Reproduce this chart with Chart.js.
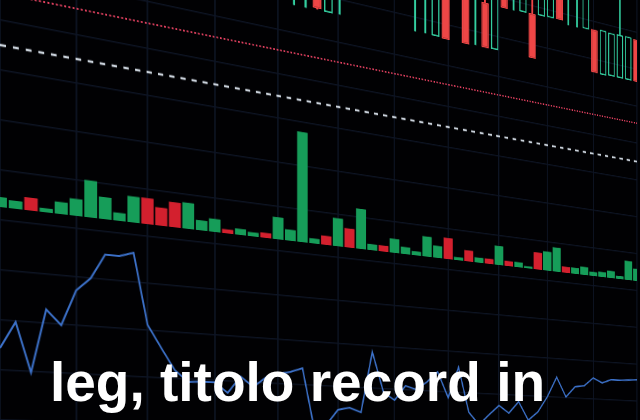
<!DOCTYPE html>
<html>
<head>
<meta charset="utf-8">
<script src="https://cdn.jsdelivr.net/npm/chart.js@4.4.1/dist/chart.umd.min.js"></script>
<style>
  html, body { margin: 0; padding: 0; background: #010103; width: 640px; height: 420px; overflow: hidden; }
  #stage { position: absolute; left: 0; top: 0; width: 640px; height: 420px; overflow: hidden; background: #010103; }
  /* the screen is photographed at an angle: flat chart -> perspective */
  #chart { position: absolute; left: 0; top: 0; transform-origin: 0 0;
    transform: matrix3d(1, 0.2016, 0, 0.0004125, 0, 1, 0, 0, 0, 0, 1, 0, 0, -180, 0, 1); }
  #caption { position: absolute; left: 50px; top: 355px; color: #fff; white-space: nowrap;
    font: bold 55px "Liberation Sans", Arial, sans-serif; line-height: 55px; }
</style>
</head>
<body>
<div id="stage">
  <canvas id="chart" width="872" height="600"></canvas>
  <div id="caption">leg, titolo record in</div>
</div>
<script>
// volume per session (1 = up session, 0 = down session)
const volume = [100, 80, 130, 41, 123, 175, 384, 230, 84, 275,
                277, 193, 269, 282, 109, 143, 44, 67, 45, 56,
                249, 125, 1257, 57, 104, 325, 222, 470, 71, 71,
                167, 84, 48, 243, 146, 258, 37, 136, 62, 63,
                239, 63, 64, 26, 218, 245, 312, 78, 79, 105,
                53, 66, 94, 40, 256, 163];
const volumeUp = [1, 1, 0, 1, 1, 1, 1, 1, 1, 1,
                  0, 0, 0, 1, 1, 1, 0, 1, 1, 0,
                  1, 1, 1, 1, 0, 1, 0, 1, 1, 0,
                  1, 1, 1, 1, 1, 0, 1, 0, 1, 0,
                  1, 0, 1, 1, 0, 1, 1, 0, 1, 1,
                  1, 1, 1, 1, 1, 1];

// oscillator in the lower pane
const oscillator = [7.2, 9.9, 4.9, 11.4, 9.9, 13.6, 15.0, 17.6, 17.6, 18.1,
                    10.6, 8.2, 5.9, 4.7, 4.8, 4.8, 3.7, 5.6, 4.5, 5.6,
                    6.1, 6.4, 6.9, -0.1, 0.5, 2.3, 2.6, 2.1, 9.3, 4.6,
                    3.7, 5.5, 5.1, 6.1, 7.4, 4.3, 8.1, 2.6, 1.1, 2.4,
                    3.6, 2.7, 4.2, 1.9, 3.0, 5.0, 7.6, 5.1, 6.5, 6.7,
                    7.8, 7.2, 7.7, 7.7, 7.8, 7.9];

// price candles (upper pane), null = not visible in the frame
const candleOpen  = [59.5, 59.5, 59.5, 48.2, 59.5, null, null, null, null, null,
                     null, 59.5, 59.5, 48.3, 59.5, null, 59.5, 59.5, 53.9, 48.3,
                     59.5, 59.5, 53.9, 54.0, 54.0, 54.05, 59.5, 59.5, 59.5, 53.75,
                     53.95, 48.2, 48.3, 48.3, 48.3, 54.0];
const candleHigh  = [59.5, 59.5, 59.5, 59.5, 59.5, null, null, null, null, null,
                     null, 59.5, 59.5, 59.5, 59.5, null, 59.5, 59.5, 55.0, 59.5,
                     59.5, 59.5, 59.5, 59.5, 59.5, 59.5, 59.5, 59.5, 59.5, 59.5,
                     53.95, 54.15, 54.05, 59.5, 54.15, 54.0];
const candleLow   = [48.2, 48.2, 48.3, 48.2, 48.3, null, null, null, null, null,
                     null, 48.35, 48.4, 48.3, 48.2, null, 48.2, 48.35, 48.25, 48.3,
                     53.8, 53.85, 53.9, 48.3, 54.0, 54.05, 54.1, 53.7, 53.7, 53.75,
                     48.25, 48.2, 48.3, 48.3, 48.3, 48.3];
const candleClose = [59.5, 59.5, 48.4, 59.5, 59.5, null, null, null, null, null,
                     null, 59.5, 59.5, 59.5, 48.2, null, 48.2, 59.5, 48.25, 59.5,
                     53.8, 59.5, 59.5, 48.3, 59.5, 59.5, 54.1, 59.5, 59.5, 59.5,
                     48.25, 54.15, 54.05, 54.1, 54.15, 48.3];

// horizontal levels
const resistanceLevel = 42.7;
const averageLevel = 37.5;

const sessions = volume.map((_, i) => 'S' + (i + 1));

const GREEN = '#169d59';
const RED = '#d3202e';
const TEAL = '#33cfa0';
const CANDLE_RED = '#ee4646';
const GRID = '#0c1322';

const bodies = [], upperWicks = [], lowerWicks = [];
const bodyFill = [], bodyBorder = [], upperColor = [], lowerColor = [];
candleOpen.forEach((o, k) => {
    if (o === null) return;
    const c = candleClose[k];
    const up = c >= o;
    const top = Math.max(o, c), bottom = Math.min(o, c);
    bodies.push({ x: k, y: [o, c] });
    bodyFill.push(up ? 'rgba(0,0,0,0)' : CANDLE_RED);
    bodyBorder.push(up ? TEAL : CANDLE_RED);
    if (candleHigh[k] > top) {
        upperWicks.push({ x: k, y: [top, candleHigh[k]] });
        upperColor.push(up ? TEAL : CANDLE_RED);
    }
    if (candleLow[k] < bottom) {
        lowerWicks.push({ x: k, y: [candleLow[k], bottom] });
        lowerColor.push(up ? TEAL : CANDLE_RED);
    }
});

new Chart(document.getElementById('chart').getContext('2d'), {
    type: 'bar',
    data: {
        labels: sessions,
        datasets: [
            {
                label: 'Candles',
                data: bodies,
                xAxisID: 'xc', yAxisID: 'yp',
                backgroundColor: bodyFill,
                borderColor: bodyBorder,
                borderWidth: 1.8,
                borderSkipped: false,
                grouped: false,
                barPercentage: 0.78,
                categoryPercentage: 1
            },
            {
                label: 'Upper shadow',
                data: upperWicks,
                xAxisID: 'xc', yAxisID: 'yp',
                backgroundColor: upperColor,
                barThickness: 2.2,
                grouped: false
            },
            {
                label: 'Lower shadow',
                data: lowerWicks,
                xAxisID: 'xc', yAxisID: 'yp',
                backgroundColor: lowerColor,
                barThickness: 2.2,
                grouped: false
            },
            {
                type: 'line',
                label: 'Resistance',
                data: sessions.map(() => resistanceLevel),
                xAxisID: 'x', yAxisID: 'yp',
                borderColor: '#e2405f',
                borderWidth: 2,
                borderDash: [2, 2.4],
                pointRadius: 0
            },
            {
                type: 'line',
                label: 'Average',
                data: sessions.map(() => averageLevel),
                xAxisID: 'x', yAxisID: 'yp',
                borderColor: '#c9d1da',
                borderWidth: 2.6,
                borderDash: [6, 7],
                pointRadius: 0
            },
            {
                label: 'Volume',
                data: volume,
                xAxisID: 'x', yAxisID: 'yv',
                backgroundColor: volumeUp.map(u => u ? GREEN : RED),
                grouped: false,
                barPercentage: 0.88,
                categoryPercentage: 1
            },
            {
                type: 'line',
                label: 'Oscillator',
                data: oscillator,
                xAxisID: 'x', yAxisID: 'yi',
                borderColor: '#3b70c8',
                borderWidth: 2,
                tension: 0,
                pointRadius: 0
            }
        ]
    },
    options: {
        responsive: false,
        animation: false,
        layout: { padding: { left: 0, right: 8, top: 0, bottom: 0 } },
        plugins: { legend: { display: false }, tooltip: { enabled: false } },
        scales: {
            x: {
                type: 'category',
                offset: false,
                grid: {
                    offset: false,
                    drawTicks: false,
                    lineWidth: 1.8,
                    color: c => c.index % 5 === 0 ? GRID : 'rgba(0,0,0,0)'
                },
                border: { display: false },
                ticks: { display: false }
            },
            xc: { type: 'linear', display: false, offset: false, min: -22.16, max: 35.06 },
            yp: {
                type: 'linear', position: 'left', min: 0, max: 60,
                grid: { drawTicks: false, color: GRID, lineWidth: 1.5 },
                border: { display: false },
                ticks: { display: false, stepSize: 5 }
            },
            yv: { type: 'linear', display: false, min: -2130, max: 3870 },
            yi: { type: 'linear', display: false, min: 0, max: 60 }
        }
    }
});
</script>
</body>
</html>
